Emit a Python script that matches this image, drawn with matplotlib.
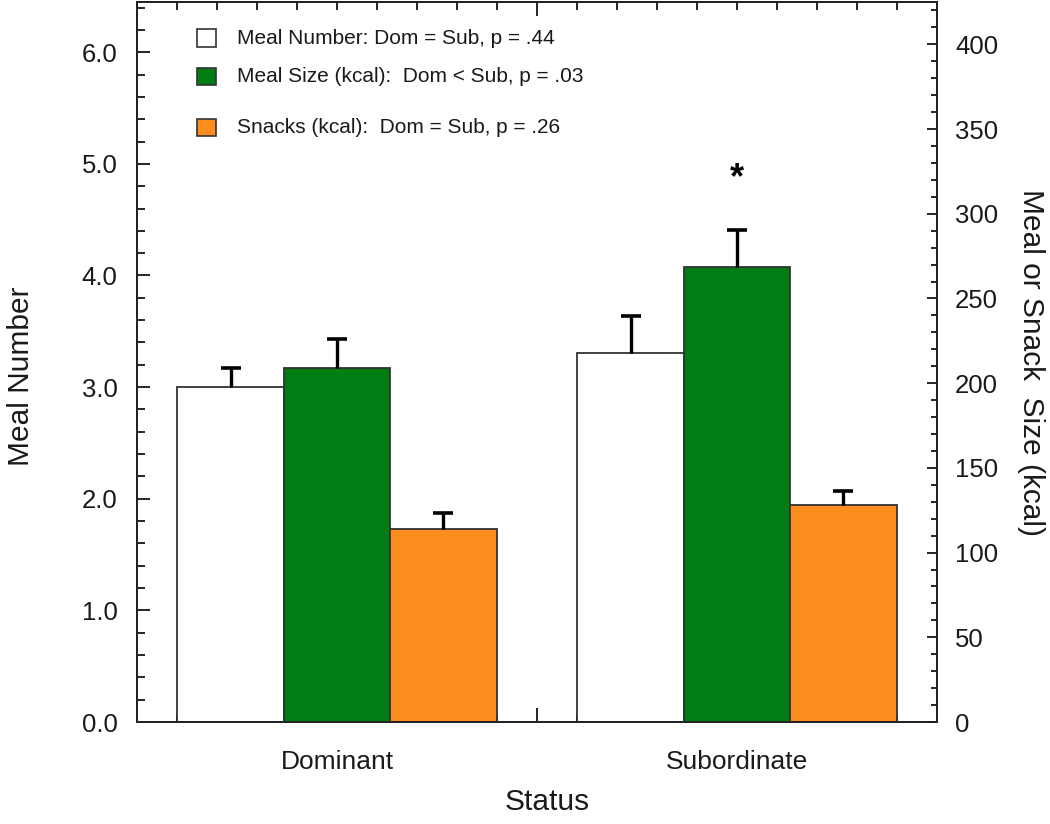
import numpy as np
import matplotlib
matplotlib.use('Agg')
import matplotlib.pyplot as plt
from matplotlib.patches import Rectangle
from matplotlib.ticker import MultipleLocator

plt.rcParams['font.family'] = ['Liberation Sans', 'DejaVu Sans']

groups = ['Dominant', 'Subordinate']
meal_number = [3.0, 3.31]
meal_number_err = [0.17, 0.33]
meal_size = [209, 268.6]
meal_size_err = [17, 22]
snacks = [114, 128]
snacks_err = [9.5, 8.5]

legend_labels = ['Meal Number: Dom = Sub, p = .44',
                 'Meal Size (kcal):  Dom < Sub, p = .03',
                 'Snacks (kcal):  Dom = Sub, p = .26']
colors = ['white', '#017d13', '#fd8c1f']
text_col = '#1a1a1a'

x = np.array([5, 15])
w = 2.66

fig = plt.figure(figsize=(10.5, 8.24), dpi=100)
ax = fig.add_axes([137 / 1050, 102 / 824, 800 / 1050, 720 / 824])
ax2 = ax.twinx()

err_kw = dict(ecolor='black', elinewidth=2.4, capsize=7, capthick=2.6)
b1 = ax.bar(x - w, meal_number, w, color=colors[0], edgecolor='#333333', linewidth=1.3,
            yerr=[[0, 0], meal_number_err], error_kw=err_kw, zorder=2)
b2 = ax2.bar(x, meal_size, w, color=colors[1], edgecolor='#333333', linewidth=1.3,
             yerr=[[0, 0], meal_size_err], error_kw=err_kw, zorder=2)
b3 = ax2.bar(x + w, snacks, w, color=colors[2], edgecolor='#333333', linewidth=1.3,
             yerr=[[0, 0], snacks_err], error_kw=err_kw, zorder=2)
# only the upper cap is shown
for b in (b1, b2, b3):
    b.errorbar.lines[1][0].set_visible(False)

# significance star above subordinate meal size
ax2.annotate('*', xy=(x[1], meal_size[1] + meal_size_err[1]), xytext=(0, 37),
             textcoords='offset points', ha='center', va='center',
             fontsize=26, fontweight='bold', color='black')

ax.set_xlim(0, 20)
ax.set_ylim(0, 6.45)
ax2.set_ylim(0, 425)

ax.set_yticks(np.arange(0, 6.01, 1.0))
ax.set_yticklabels([f'{v:.1f}' for v in np.arange(0, 6.01, 1.0)])
ax.yaxis.set_minor_locator(MultipleLocator(0.2))
ax2.set_yticks(np.arange(0, 401, 50))
ax2.yaxis.set_minor_locator(MultipleLocator(10))

ax.set_xticks([0, 10, 20])
ax.set_xticklabels(['', '', ''])
ax.set_xticks(np.arange(1, 20), minor=True)

ax.tick_params(axis='x', which='both', direction='in', top=True, bottom=True)
ax.tick_params(axis='x', which='major', length=10, width=1.2)
ax.tick_params(axis='x', which='minor', length=5.5, width=1.2)
ax.tick_params(axis='y', which='both', direction='in', left=True, right=False,
               labelsize=18.5, labelcolor=text_col, pad=14)
ax.tick_params(axis='y', which='major', length=9, width=1.2)
ax.tick_params(axis='y', which='minor', length=5.5, width=1.2)
ax2.tick_params(axis='y', which='both', direction='in', right=True,
                labelsize=18.5, labelcolor=text_col, pad=13)
ax2.tick_params(axis='y', which='major', length=7, width=1.2)
ax2.tick_params(axis='y', which='minor', length=4, width=1.2)

sec = ax.secondary_xaxis('bottom')
sec.set_xticks(x)
sec.set_xticklabels(groups)
sec.tick_params(length=0, labelsize=19, labelcolor=text_col, pad=20)
sec.spines['bottom'].set_visible(False)

for a in (ax, ax2):
    for s in a.spines.values():
        s.set_linewidth(1.3)
        s.set_color('#222222')

ax.set_xlabel('Status', fontsize=21.5, color=text_col)
ax.xaxis.set_label_coords(0.513, -0.111)
ax.xaxis.label.set_va('center')
ax.set_ylabel('Meal Number', fontsize=21.5, color=text_col)
ax.yaxis.set_label_coords(-0.145, 0.48)
ax.yaxis.label.set_va('center')
ax2.set_ylabel('Meal or Snack  Size (kcal)', fontsize=21.5, color=text_col,
               rotation=270, labelpad=34)

# legend drawn by hand to keep the uneven spacing of the original
leg_y = [0.95, 0.897, 0.826]
for lab, col, yy in zip(legend_labels, colors, leg_y):
    ax.add_patch(Rectangle((0.0755, yy - 0.012), 0.0235, 0.024, transform=ax.transAxes,
                           facecolor=col, edgecolor='#333333', linewidth=1.2,
                           clip_on=False, zorder=5))
    ax.text(0.125, yy, lab, transform=ax.transAxes, fontsize=15, color=text_col,
            va='center', ha='left')

fig.savefig('out.png', dpi=100)
